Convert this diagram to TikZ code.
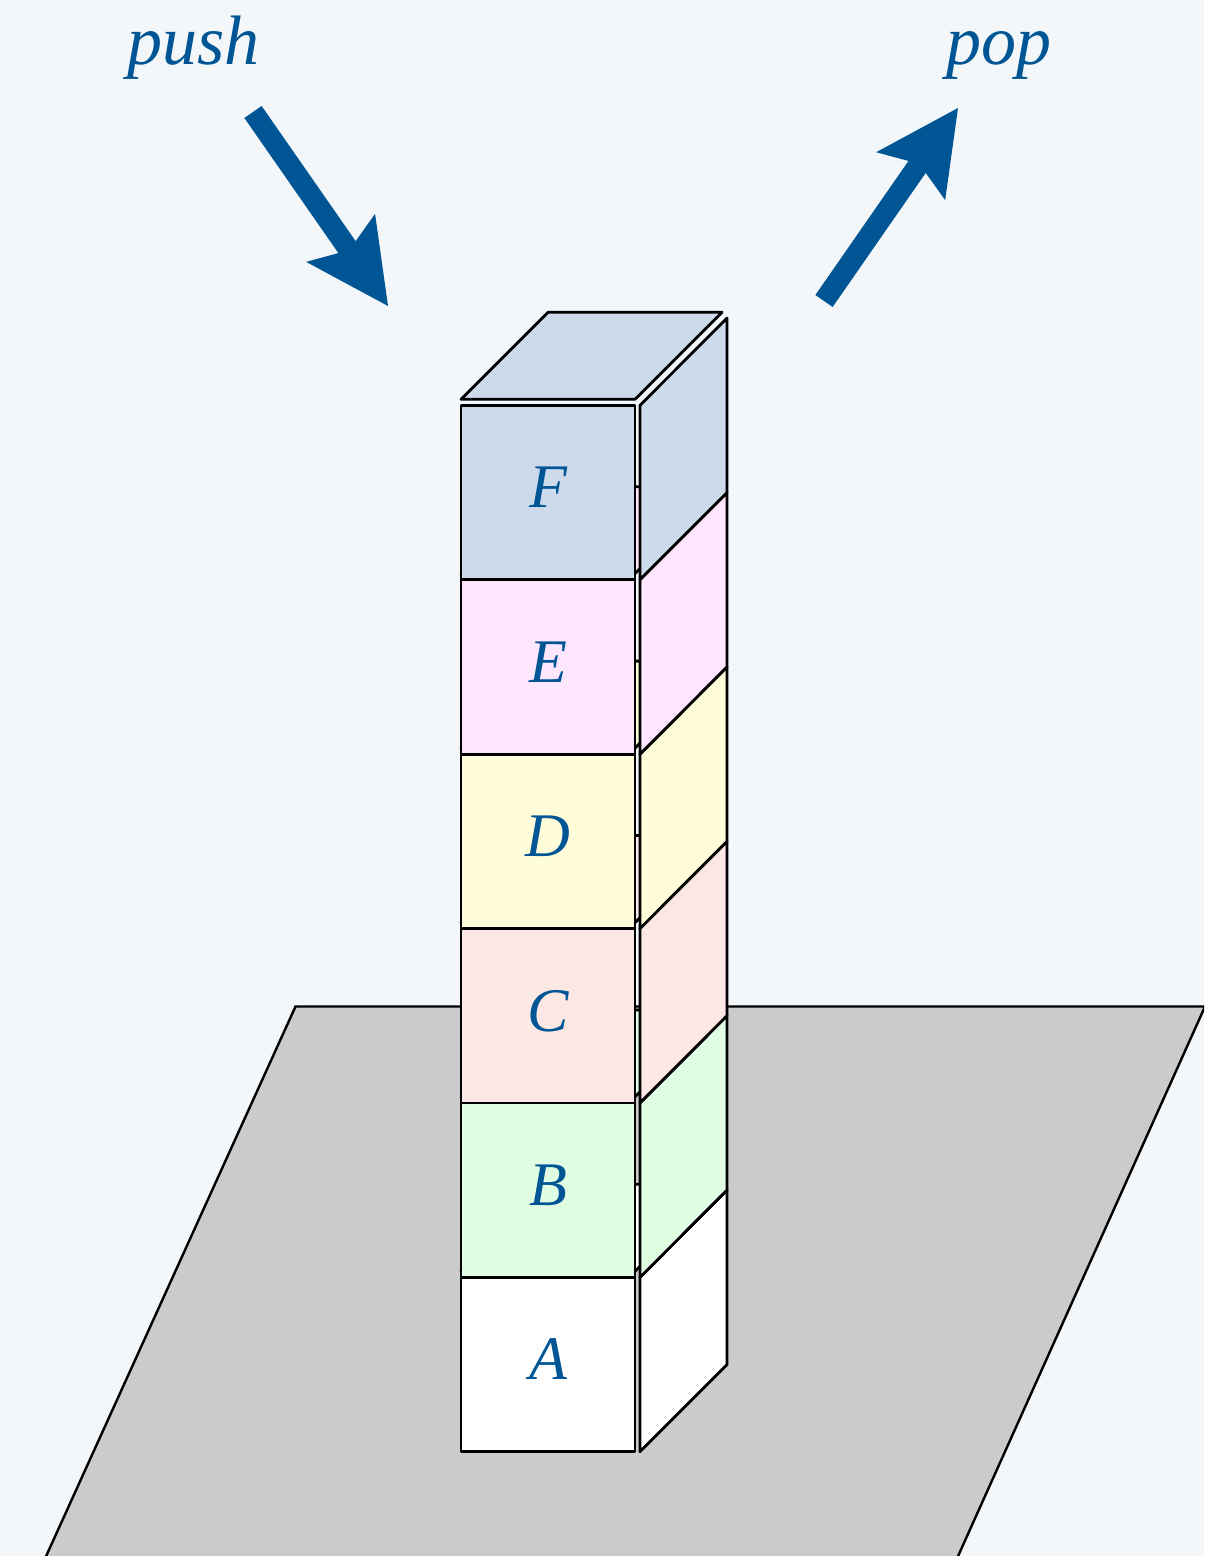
\documentclass[tikz,border=0pt]{standalone}
\usepackage{fontspec}
\setmainfont{Liberation Serif}
\usetikzlibrary{positioning, arrows.meta}
\definecolor{pagebg}{HTML}{F3F7FA}
\definecolor{labelblue}{HTML}{005595}
\definecolor{planegray}{HTML}{CBCBCB}
\definecolor{fillB}{HTML}{E0FDE3}
\definecolor{fillC}{HTML}{FBE7E4}
\definecolor{fillD}{HTML}{FFFCD9}
\definecolor{fillE}{HTML}{FEE6FF}
\definecolor{fillF}{HTML}{CCDAEC}
\tikzset{
    cubefront/.style={
        draw, rectangle, inner sep=0pt, outer sep=0pt, line width=1.4pt, line join=round,
        minimum width=87pt, minimum height=87.2pt, text=labelblue, text depth=5pt,
        font=\fontsize{31}{36}\selectfont\itshape
    },
    cubeface/.style={draw, line width=1.4pt, line join=round},
    plane/.style={draw, fill=planegray, line width=1.2pt},
    stackword/.style={text=labelblue, inner sep=0pt, anchor=base, font=\fontsize{35}{40}\selectfont\itshape},
    stackarrow/.style={
        draw=labelblue, line width=10.5pt,
        -{Stealth[length=41.5pt, width=42pt, inset=7.5pt, line width=0pt]}
    }
}
% top and side of one cube, read off its front node
\newcommand{\cubefaces}[2]{
    \draw[cubeface, fill=#2] ([yshift=3pt]#1.north west) -- ([yshift=3pt]#1.north east)
        -- ([xshift=43.5pt, yshift=46.5pt]#1.north east) -- ([xshift=43.5pt, yshift=46.5pt]#1.north west) -- cycle;
    \draw[cubeface, fill=#2] ([xshift=2.5pt]#1.north east) -- ([xshift=46pt, yshift=43.6pt]#1.north east)
        -- ([xshift=46pt, yshift=43.6pt]#1.south east) -- ([xshift=2.5pt]#1.south east) -- cycle;
}

\begin{document}
\begin{tikzpicture}[x=0.5pt, y=-0.5pt]
    \useasboundingbox (0,0) rectangle (1204,1556);
    \fill[pagebg] (0,0) rectangle (1204,1556);

    \begin{scope}
        \clip (0,0) rectangle (1204,1556);
        \draw[plane] (295.5,1006.5) -- (1205,1006.5) -- (950,1574) -- (38,1574) -- cycle;
    \end{scope}

    \node[cubefront, fill=white] (A) at (548,1364.5) {A};
    \cubefaces{A}{white}
    \node[cubefront, fill=fillB, above=0pt of A] (B) {B};
    \cubefaces{B}{fillB}
    \node[cubefront, fill=fillC, above=0pt of B] (C) {C};
    \cubefaces{C}{fillC}
    \node[cubefront, fill=fillD, above=0pt of C] (D) {D};
    \cubefaces{D}{fillD}
    \node[cubefront, fill=fillE, above=0pt of D] (E) {E};
    \cubefaces{E}{fillE}
    \node[cubefront, fill=fillF, above=0pt of E] (F) {F};
    \cubefaces{F}{fillF}

    \node[stackword] (pushword) at (193.5,65) {push};
    \node[stackword] (popword) at (999,65) {pop};

    \coordinate (pushstart) at (253,112);
    \coordinate (pushend) at (388,306);
    \coordinate (popstart) at (824,301);
    \coordinate (popend) at (958,108);
    \draw[stackarrow] (pushstart) -- (pushend);
    \draw[stackarrow] (popstart) -- (popend);
\end{tikzpicture}
\end{document}
